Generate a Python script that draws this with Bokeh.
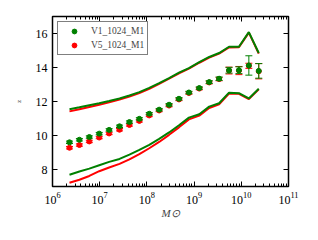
import numpy as np
from bokeh.plotting import figure
from bokeh.models import (ColumnDataSource, Range1d, LogAxis, LinearAxis,
                          FixedTicker, Legend, LegendItem)
from bokeh.embed import file_html
from bokeh.resources import INLINE

# ---- data ----
log_mass = [6.36, 6.57, 6.78, 6.99, 7.20, 7.42, 7.63, 7.84, 8.05, 8.26,
            8.47, 8.68, 8.89, 9.11, 9.32, 9.53, 9.74, 9.95, 10.16, 10.37]

v1_label = "V1_1024_M1"
v5_label = "V5_1024_M1"

v1_z = [9.60, 9.75, 9.91, 10.11, 10.33, 10.54, 10.79, 10.98, 11.28, 11.52,
        11.81, 12.16, 12.53, 12.79, 13.14, 13.34, 13.84, 13.84, 14.12, 13.80]
v1_err = [0.07, 0.07, 0.07, 0.07, 0.07, 0.07, 0.07, 0.07, 0.07, 0.07,
          0.07, 0.07, 0.07, 0.07, 0.08, 0.10, 0.17, 0.20, 0.57, 0.43]
v5_z = [9.28, 9.44, 9.65, 9.88, 10.12, 10.34, 10.62, 10.86, 11.18, 11.47,
        11.76, 12.12, 12.50, 12.76, 13.12, 13.32, 13.82, 13.82, 14.10, 13.78]
v5_err = [0.07, 0.07, 0.07, 0.07, 0.07, 0.07, 0.07, 0.07, 0.07, 0.07,
          0.07, 0.07, 0.07, 0.07, 0.08, 0.10, 0.20, 0.24, 0.15, 0.45]

v1_upper = [11.55, 11.66, 11.78, 11.90, 12.03, 12.18, 12.35, 12.55, 12.80, 13.08,
            13.38, 13.70, 13.96, 14.32, 14.62, 14.85, 15.22, 15.22, 16.08, 14.85]
v5_upper = [11.42, 11.55, 11.68, 11.81, 11.95, 12.11, 12.29, 12.50, 12.75, 13.04,
            13.34, 13.66, 13.93, 14.28, 14.58, 14.82, 15.18, 15.19, 16.05, 14.82]
v1_lower = [7.69, 7.88, 8.05, 8.25, 8.45, 8.62, 8.88, 9.15, 9.45, 9.80,
            10.18, 10.60, 11.05, 11.25, 11.70, 11.90, 12.52, 12.49, 12.18, 12.75]
v5_lower = [7.22, 7.40, 7.62, 7.90, 8.12, 8.33, 8.60, 8.90, 9.25, 9.62,
            10.04, 10.48, 10.95, 11.17, 11.62, 11.84, 12.47, 12.45, 12.14, 12.72]

x_major = [1e6, 1e7, 1e8, 1e9, 1e10, 1e11]
y_major = [8, 10, 12, 14, 16]

GREEN = "#008000"
RED = "#ff0000"
SERIF = "Liberation Serif"

mass = [10 ** v for v in log_mass]


def make_source(z, err, up, lo):
    return ColumnDataSource(dict(
        x=mass, z=z,
        zlo=[a - b for a, b in zip(z, err)],
        zhi=[a + b for a, b in zip(z, err)],
        up=up, lo=lo))


src1 = make_source(v1_z, v1_err, v1_upper, v1_lower)
src5 = make_source(v5_z, v5_err, v5_upper, v5_lower)

p = figure(width=309, height=231, x_axis_type="log",
           x_range=Range1d(1e6, 1e11), y_range=Range1d(7, 17),
           output_backend="svg", toolbar_location=None,
           min_border_left=52, min_border_right=21,
           min_border_top=16, min_border_bottom=45)
p.xgrid.visible = False
p.ygrid.visible = False
p.outline_line_color = "black"
p.outline_line_width = 1.5
p.background_fill_color = "white"
p.border_fill_color = "white"

renderers = {}
for src, col, key in [(src5, RED, "v5"), (src1, GREEN, "v1")]:
    p.line("x", "up", source=src, line_color=col, line_width=2)
    p.line("x", "lo", source=src, line_color=col, line_width=2)

for src, col, key in [(src5, RED, "v5"), (src1, GREEN, "v1")]:
    p.segment(x0="x", y0="zlo", x1="x", y1="zhi", source=src,
              line_color=col, line_width=1)
    p.scatter("x", "zlo", source=src, marker="dash", size=7,
              line_color=col, line_width=1)
    p.scatter("x", "zhi", source=src, marker="dash", size=7,
              line_color=col, line_width=1)
    renderers[key] = p.scatter("x", "z", source=src, marker="circle", size=5,
                               fill_color=col, line_color=col)

ticks_minor = [k * 10 ** n for n in range(6, 11) for k in range(2, 10)]
xt = FixedTicker(ticks=x_major, minor_ticks=ticks_minor)
yt = FixedTicker(ticks=y_major)

xa = p.xaxis[0]
xa.ticker = xt
ya = p.yaxis[0]
ya.ticker = yt

for ax in (xa, ya):
    ax.major_tick_in = 5
    ax.major_tick_out = 0
    ax.minor_tick_in = 3
    ax.minor_tick_out = 0
    ax.axis_line_color = None
    ax.major_label_text_font = SERIF
    ax.major_label_text_font_size = "12px"
    ax.major_label_text_color = "black"
    ax.axis_label_text_font = SERIF
ya.minor_tick_line_color = None
ya.major_label_standoff = 5
xa.major_label_standoff = 5

xa.axis_label = "M⊙"
xa.axis_label_text_font_style = "italic"
xa.axis_label_text_font_size = "11px"
xa.axis_label_standoff = 0
ya.axis_label = "z"
ya.axis_label_text_font_style = "normal"
ya.axis_label_text_font_size = "7px"
ya.axis_label_standoff = 10

top = LogAxis(ticker=xt, major_label_text_font_size="1px",
              major_label_text_color=None,
              major_label_standoff=0, major_tick_in=5, major_tick_out=0,
              minor_tick_in=3, minor_tick_out=0, axis_line_color=None)
right = LinearAxis(ticker=yt, major_label_text_font_size="1px",
                   major_label_text_color=None,
                   major_label_standoff=0, major_tick_in=5, major_tick_out=0,
                   minor_tick_line_color=None, axis_line_color=None)
p.add_layout(top, "above")
p.add_layout(right, "right")

legend = Legend(items=[LegendItem(label=v1_label, renderers=[renderers["v1"]]),
                       LegendItem(label=v5_label, renderers=[renderers["v5"]])],
                location="top_left", margin=5, padding=3, spacing=2,
                glyph_width=26, glyph_height=12, label_height=12,
                label_standoff=4, label_text_font=SERIF,
                label_text_font_size="9.5px",
                border_line_color="black", border_line_width=1.5,
                background_fill_alpha=1.0)
p.add_layout(legend)

open("out.html", "w").write(file_html(p, INLINE))
